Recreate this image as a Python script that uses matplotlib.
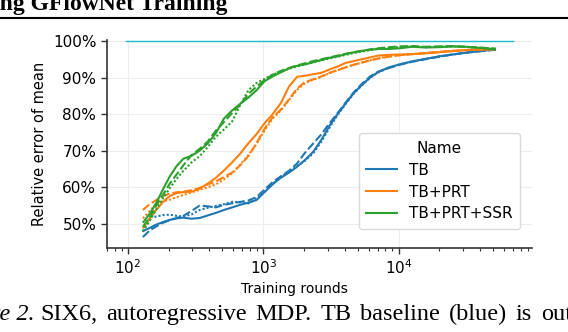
import numpy as np
import matplotlib
matplotlib.use("Agg")
import matplotlib.pyplot as plt
from matplotlib.lines import Line2D
from matplotlib.ticker import PercentFormatter

# training rounds (shared x grid for every run)
rounds = [129, 145, 162, 182, 204, 229, 257, 295, 339, 389, 447, 513, 589, 676, 776,
          891, 1023, 1175, 1349, 1549, 1778, 2042, 2344, 2692, 3090, 3548, 4074, 4677,
          5370, 6166, 7079, 8511, 10233, 12589, 15849, 19953, 25119, 31623, 39811, 52481]

# relative error of mean (%), three runs per method
tb_a = [48.0, 48.9, 49.8, 50.5, 51.1, 51.5, 51.7, 51.4, 51.6, 52.3, 53.0, 53.8, 54.5, 55.2, 55.8,
        56.5, 58.7, 60.8, 62.6, 64.0, 65.6, 67.5, 69.7, 73.0, 76.8, 80.0, 83.0, 85.8,
        88.0, 90.0, 91.5, 92.8, 93.6, 94.4, 95.1, 95.8, 96.3, 96.8, 97.2, 97.7]
tb_b = [46.4, 48.2, 49.3, 50.3, 51.0, 51.6, 52.2, 53.5, 55.0, 54.8, 54.5, 55.2, 55.6, 56.0, 56.4,
        57.3, 59.4, 61.4, 63.0, 64.5, 66.5, 69.5, 72.0, 74.5, 77.5, 80.3, 83.2, 86.0,
        88.3, 90.3, 91.6, 92.6, 93.5, 94.3, 95.0, 95.7, 96.3, 96.8, 97.2, 97.6]
tb_c = [47.8, 51.8, 52.0, 52.4, 52.5, 52.2, 52.0, 52.6, 53.8, 54.4, 54.9, 55.4, 56.0, 55.9, 55.6,
        56.8, 58.8, 61.0, 62.8, 64.2, 65.8, 67.3, 69.3, 72.5, 76.3, 79.8, 82.8, 85.6,
        87.9, 89.9, 91.4, 92.7, 93.6, 94.4, 95.1, 95.7, 96.3, 96.8, 97.2, 97.7]

prt_a = [48.8, 51.5, 53.8, 56.0, 57.6, 58.4, 58.7, 58.8, 59.6, 61.0, 62.6, 64.6, 66.8, 69.2, 72.0,
         74.5, 77.5, 80.0, 83.0, 87.5, 90.2, 90.5, 90.9, 91.3, 92.2, 93.0, 94.0, 94.5,
         95.0, 95.5, 96.0, 96.2, 96.3, 96.4, 96.6, 96.9, 97.2, 97.5, 97.6, 97.8]
prt_b = [53.8, 55.4, 56.5, 57.6, 58.3, 58.6, 58.8, 59.2, 59.8, 60.8, 61.6, 62.8, 64.0, 66.0, 68.5,
         72.0, 76.0, 79.2, 81.2, 84.0, 87.0, 88.8, 89.5, 90.3, 91.3, 92.0, 92.8, 93.5,
         94.1, 94.7, 95.2, 95.7, 96.1, 96.4, 96.7, 97.0, 97.3, 97.5, 97.6, 97.7]
prt_c = [51.5, 53.5, 55.6, 56.2, 56.6, 57.3, 57.9, 58.6, 59.3, 60.0, 60.8, 62.2, 63.8, 66.2, 68.8,
         71.8, 75.5, 78.8, 81.0, 83.8, 86.6, 88.5, 89.4, 90.2, 91.2, 92.0, 92.8, 93.5,
         94.1, 94.7, 95.2, 95.8, 96.1, 96.4, 96.7, 97.0, 97.3, 97.5, 97.7, 97.8]

ssr_a = [50.3, 52.8, 55.7, 59.5, 63.0, 65.8, 67.8, 68.6, 70.0, 72.0, 74.8, 78.8, 81.0, 82.8, 84.5,
         86.5, 89.0, 90.3, 91.4, 92.5, 93.2, 93.6, 94.2, 94.8, 95.4, 95.8, 96.4, 96.9,
         97.3, 97.6, 97.8, 97.8, 98.0, 98.4, 98.2, 98.3, 98.5, 98.4, 98.1, 97.7]
ssr_b = [49.2, 51.8, 55.0, 58.0, 61.0, 63.5, 66.0, 68.8, 70.5, 72.5, 75.5, 77.8, 80.3, 82.6, 85.5,
         87.5, 89.3, 90.8, 91.8, 92.6, 93.3, 93.9, 94.5, 95.0, 95.5, 96.0, 96.5, 96.9,
         97.3, 97.7, 98.0, 98.3, 98.5, 98.6, 98.4, 98.5, 98.6, 98.4, 98.2, 97.9]
ssr_c = [48.0, 50.8, 54.0, 57.0, 59.8, 62.3, 64.5, 66.8, 68.5, 71.0, 73.8, 75.8, 78.0, 82.5, 86.5,
         88.5, 89.6, 90.8, 91.6, 92.4, 93.0, 93.6, 94.1, 94.7, 95.2, 95.7, 96.2, 96.7,
         97.1, 97.5, 97.8, 98.1, 98.3, 98.5, 98.3, 98.4, 98.5, 98.3, 98.1, 97.8]

names = ["TB", "TB+PRT", "TB+PRT+SSR"]
runs = [[tb_a, tb_b, tb_c], [prt_a, prt_b, prt_c], [ssr_a, ssr_b, ssr_c]]
colors = ["#1f77b4", "#ff7f0e", "#2ca02c"]
dash_styles = [(0, ()), (0, (4, 1.5)), (0, (1, 1))]

ref_x = [97, 70000]
ref_y = [100, 100]

# caption line (justified, cut at both edges in the page crop)
caption_words = ["SIX6,", "autoregressive", "MDP.", "TB", "baseline", "(blue)", "is", "out"]

plt.rcParams['font.family'] = 'DejaVu Sans'

W, H = 568, 332
fig = plt.figure(figsize=(W / 100, H / 100), dpi=100)
ax = fig.add_axes([0.188, 0.253, 0.749, 0.627])

ax.plot(ref_x, ref_y, color="#17becf", linewidth=1.0)

for name, group, c in zip(names, runs, colors):
    for vals, ls in zip(group, dash_styles):
        ax.plot(rounds, vals, color=c, linestyle=ls, linewidth=1.5)

ax.set_xscale("log")
ax.set_ylim(43.4, 100.3)
ax.set_yticks([50, 60, 70, 80, 90, 100])
ax.yaxis.set_major_formatter(PercentFormatter(decimals=0))

ax.grid(True, which="major", color="0.93", linewidth=0.8)
ax.set_axisbelow(True)
for s in ["top", "right"]:
    ax.spines[s].set_visible(False)
for s in ["left", "bottom"]:
    ax.spines[s].set_color("0.2")
    ax.spines[s].set_linewidth(1.2)
ax.tick_params(which="major", length=4, width=1, color="0.2", labelsize=11)
ax.tick_params(which="minor", length=2.5, width=0.8, color="0.2")

ax.set_xlabel("Training rounds", fontsize=10)
ax.xaxis.set_label_coords(0.44, -0.165)
ax.set_ylabel("Relative error of mean", fontsize=10.5)

handles = [Line2D([], [], color=c, linewidth=1.5) for c in colors]
leg = ax.legend(handles, names, title="Name", loc="lower right",
                bbox_to_anchor=(0.972, 0.091), borderaxespad=0, fontsize=11,
                title_fontsize=11, framealpha=1, edgecolor="0.85",
                labelspacing=0.45, borderpad=0.5)

# page context around the figure
fig.text(-0.012, 0.97, "ing GFlowNet Training", fontsize=17, fontweight="bold",
         family="Liberation Serif", va="baseline")
fig.add_artist(Line2D([0, 1], [0.946, 0.946], color="black", linewidth=1.5,
                      transform=fig.transFigure))
fig.text(35 / W, 0.036, "Figure 2.", fontsize=17.5, style="italic",
         family="Liberation Serif", ha="right", va="baseline")

# justify caption words between x=40 and x=572 px
renderer = fig.canvas.get_renderer()
word_texts = [fig.text(0, 0.036, w, fontsize=17.5, family="Liberation Serif",
                       va="baseline") for w in caption_words]
widths = [t.get_window_extent(renderer).width for t in word_texts]
gap = (572 - 40 - sum(widths)) / (len(widths) - 1)
x = 40
for t, wd in zip(word_texts, widths):
    t.set_x(x / W)
    x += wd + gap

fig.savefig("out.png", dpi=100)
